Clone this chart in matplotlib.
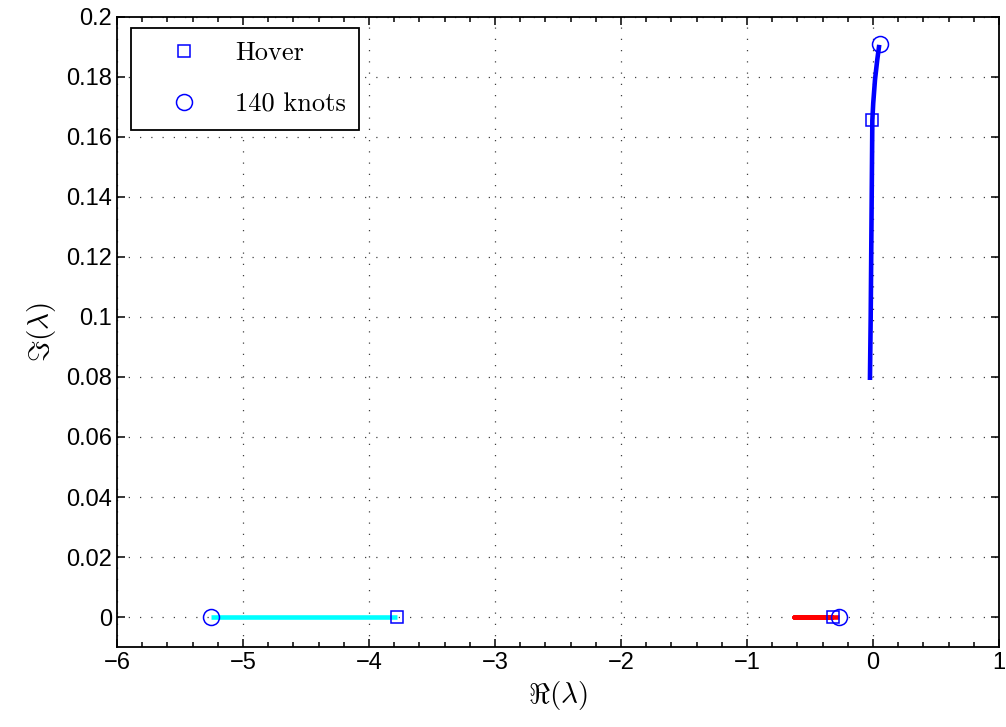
import numpy as np
import matplotlib.pyplot as plt
from matplotlib.ticker import MultipleLocator

plt.rcParams['mathtext.fontset'] = 'cm'

# eigenvalue loci (real, imaginary parts) from hover to 140 knots
cyan_re = [-5.25, -3.78]
cyan_im = [0.0, 0.0]

red_re = [-0.32, -0.45, -0.63, -0.50, -0.27]
red_im = [0.0, 0.0, 0.0, 0.0, 0.0]

blue_re = [-0.024, -0.018, -0.013, -0.008, -0.005, 0.002, 0.016, 0.034, 0.050]
blue_im = [0.079, 0.100, 0.125, 0.150, 0.1655, 0.1712, 0.179, 0.1857, 0.1907]

# marker positions
hover_re = [-3.78, -0.32, -0.005]
hover_im = [0.0, 0.0, 0.1655]
fast_re = [-5.25, -0.27, 0.056]
fast_im = [0.0, 0.0, 0.191]

fig = plt.figure(figsize=(10.06, 7.27), dpi=100)
ax = fig.add_axes([0.1163, 0.110, 0.8767, 0.8667])

ax.plot(cyan_re, cyan_im, color='cyan', lw=3.3, solid_capstyle='butt')
ax.plot(red_re, red_im, color='red', lw=3.3, solid_capstyle='butt')
ax.plot(blue_re, blue_im, color='blue', lw=3.3, solid_capstyle='butt')

ax.plot(hover_re, hover_im, 's', color='blue', mfc='none', ms=9, mew=1.1,
        linestyle='none', label='Hover')
ax.plot(fast_re, fast_im, 'o', color='blue', mfc='none', ms=11.5, mew=1.1,
        linestyle='none', label='140 knots')

ax.set_xlim(-6, 1)
ax.set_ylim(-0.01, 0.2)
ax.set_xticks(np.arange(-6, 2, 1))
ax.set_yticks(np.arange(0, 0.201, 0.02))
ax.set_yticklabels(['0', '0.02', '0.04', '0.06', '0.08', '0.1', '0.12',
                    '0.14', '0.16', '0.18', '0.2'])
ax.xaxis.set_minor_locator(MultipleLocator(0.2))

ax.grid(True, which='major', color='0.25', linestyle=(0, (1, 8)), lw=0.9)
ax.tick_params(which='both', direction='in', top=True, right=True,
               labelsize=17, width=1.1)
ax.tick_params(which='major', length=6)
ax.tick_params(which='minor', length=3.5)
for lab in ax.get_xticklabels() + ax.get_yticklabels():
    lab.set_fontfamily('Liberation Sans')
for sp in ax.spines.values():
    sp.set_linewidth(1.3)

ax.set_xlabel(r'$\Re(\lambda)$', fontsize=21, labelpad=4)
ax.set_ylabel(r'$\Im(\lambda)$', fontsize=21, labelpad=6)

leg = ax.legend(loc='upper left', bbox_to_anchor=(0.016, 0.982),
                borderaxespad=0, fancybox=False, edgecolor='black',
                prop={'family': 'cmr10', 'size': 19}, handlelength=3.0,
                handletextpad=0.45, labelspacing=1.05, borderpad=0.5,
                framealpha=1)
leg.get_frame().set_linewidth(1.3)

fig.savefig('out.png', dpi=100)
